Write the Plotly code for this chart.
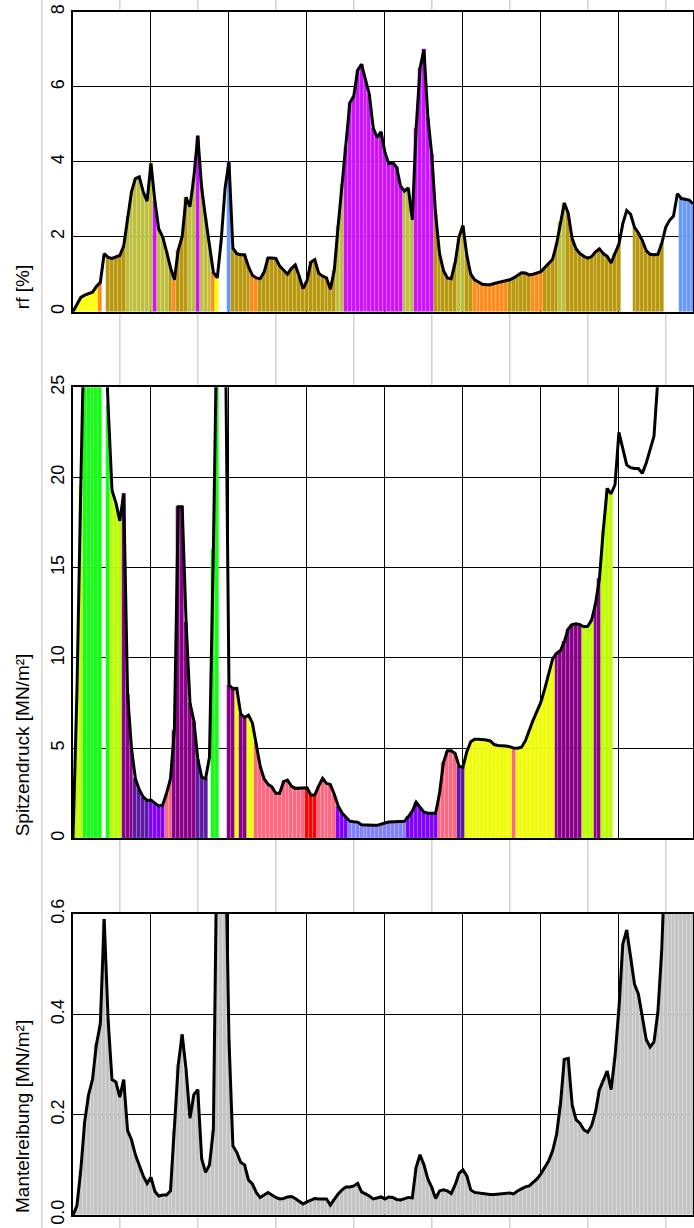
import plotly.graph_objects as go

# ---------------- data ----------------
depth_start = 0.0
depth_step = 0.05

rf = [0.0, 0.2, 0.38, 0.44, 0.47, 0.52, 0.67, 0.78, 1.55, 1.45,
      1.42, 1.46, 1.5, 1.75, 2.55, 3.2, 3.55, 3.6, 3.2, 2.95,
      3.96, 2.95, 2.2, 2.0, 1.6, 1.18, 0.85, 1.65, 2.0, 3.05,
      2.8, 3.6, 4.7, 3.3, 2.5, 1.75, 1.05, 0.9, 1.9, 3.3,
      4.0, 1.7, 1.55, 1.52, 1.52, 1.2, 0.97, 0.9, 0.88, 1.05,
      1.43, 1.43, 1.42, 1.22, 1.1, 1.0, 1.15, 1.25, 0.95, 0.62,
      0.82, 1.32, 1.39, 1.03, 0.95, 0.9, 0.6, 1.1, 2.3, 3.4,
      4.4, 5.58, 5.75, 6.45, 6.6, 6.2, 5.8, 4.9, 4.65, 4.8,
      4.25, 3.95, 3.98, 3.85, 3.35, 3.22, 3.3, 2.45, 4.9, 6.5,
      7.0, 5.2, 4.2, 2.6, 1.55, 1.1, 0.9, 0.88, 1.3, 2.0,
      2.3, 1.5, 1.0, 0.85, 0.78, 0.73, 0.72, 0.72, 0.75, 0.77,
      0.79, 0.81, 0.85, 0.9, 0.96, 1.04, 1.03, 0.98, 1.0, 1.03,
      1.07, 1.18, 1.3, 1.4, 1.8, 2.4, 2.9, 2.63, 1.95, 1.68,
      1.55, 1.48, 1.43, 1.47, 1.6, 1.68, 1.55, 1.48, 1.3, 1.56,
      1.8, 2.35, 2.7, 2.6, 2.25, 2.1, 1.9, 1.63, 1.53, 1.52,
      1.53, 1.83, 2.25, 2.44, 2.55, 3.15, 3.02, 3.0, 2.98, 2.88]

qc = [0.0, 8.0, 19.5, 30, 30, 30, 30, 30, 30, 24.0,
      19.3, 18.6, 17.6, 19.1, 8.0, 5.0, 3.3, 2.7, 2.3, 2.1,
      2.12, 1.95, 1.8, 1.85, 2.5, 3.3, 6.0, 18.38, 18.38, 12.0,
      7.5, 6.5, 4.4, 3.4, 3.3, 4.5, 16.0, 30, 30, 30,
      8.5, 8.3, 8.31, 6.9, 6.7, 6.83, 6.4, 5.3, 4.0, 3.3,
      3.0, 2.85, 2.5, 2.5, 3.14, 3.23, 2.9, 2.77, 2.77, 2.8,
      2.8, 2.4, 2.4, 2.9, 3.33, 3.05, 2.98, 2.45, 1.8, 1.4,
      1.15, 0.95, 0.92, 0.9, 0.75, 0.73, 0.72, 0.72, 0.72, 0.8,
      0.85, 0.9, 0.92, 0.9, 0.92, 0.95, 1.2, 1.5, 2.0, 1.7,
      1.45, 1.39, 1.39, 1.39, 2.5, 4.2, 4.85, 4.85, 4.7, 4.0,
      3.95, 4.8, 5.35, 5.49, 5.49, 5.49, 5.45, 5.4, 5.2, 5.15,
      5.15, 5.12, 5.08, 5.0, 4.99, 5.05, 5.4, 6.0, 6.55, 7.05,
      7.55, 8.3, 9.1, 9.95, 10.25, 10.4, 10.9, 11.6, 11.85, 11.9,
      11.85, 11.73, 11.75, 12.1, 13.0, 14.4, 17.1, 19.4, 19.1, 19.6,
      22.5, 21.6, 20.7, 20.55, 20.5, 20.5, 20.23, 20.8, 21.6, 22.3,
      25.5, 30, 30, 30, 30, 30, 30, 30, 30, 30]

fs = [0.0, 0.018, 0.09, 0.186, 0.24, 0.27, 0.34, 0.38, 0.59, 0.39,
      0.27, 0.265, 0.235, 0.27, 0.168, 0.15, 0.12, 0.1, 0.078, 0.063,
      0.075, 0.047, 0.038, 0.04, 0.04, 0.048, 0.17, 0.3, 0.36, 0.29,
      0.193, 0.24, 0.25, 0.112, 0.085, 0.1, 0.17, 0.8, 0.9, 0.8,
      0.35, 0.138, 0.125, 0.105, 0.1, 0.07, 0.062, 0.045, 0.035, 0.04,
      0.045, 0.04, 0.035, 0.032, 0.033, 0.036, 0.037, 0.033, 0.028, 0.022,
      0.026, 0.03, 0.033, 0.032, 0.032, 0.032, 0.02, 0.032, 0.042, 0.05,
      0.056, 0.056, 0.058, 0.063, 0.046, 0.042, 0.038, 0.032, 0.034, 0.036,
      0.032, 0.036, 0.035, 0.031, 0.03, 0.032, 0.035, 0.034, 0.095, 0.12,
      0.1, 0.072, 0.055, 0.033, 0.048, 0.05, 0.048, 0.043, 0.06, 0.083,
      0.09, 0.078, 0.05, 0.045, 0.044, 0.042, 0.041, 0.041, 0.041, 0.042,
      0.042, 0.043, 0.044, 0.042, 0.048, 0.052, 0.056, 0.058, 0.065, 0.072,
      0.082, 0.096, 0.108, 0.128, 0.16, 0.22, 0.31, 0.312, 0.22, 0.19,
      0.183, 0.17, 0.165, 0.178, 0.206, 0.25, 0.27, 0.287, 0.25, 0.316,
      0.41, 0.54, 0.568, 0.515, 0.46, 0.44, 0.395, 0.35, 0.335, 0.345,
      0.405, 0.53, 0.75, 0.8, 0.8, 0.85, 0.85, 0.9, 0.9, 0.9]

# soil-class layers (class code, number of samples)
rf_layers = [("Y", 7), ("O", 1), ("W", 1), ("G", 5), ("L", 7), ("M", 1), ("L", 3),
             ("G", 1), ("O", 1), ("G", 3), ("L", 2), ("M", 1), ("L", 3), ("O", 1),
             ("Y", 1), ("W", 2), ("B", 1), ("G", 5), ("O", 2), ("G", 20), ("L", 2),
             ("M", 15), ("L", 3), ("M", 5), ("G", 6), ("L", 2), ("G", 2), ("O", 9),
             ("G", 6), ("O", 3), ("G", 4), ("L", 2), ("G", 14), ("W", 3), ("G", 8),
             ("W", 4), ("B", 4)]

qc_layers = [("y", 3), ("g", 5), ("W", 1), ("g", 1), ("y", 3), ("p", 3), ("i", 4),
             ("v", 4), ("k", 2), ("p", 6), ("i", 3), ("W", 1), ("g", 2), ("W", 2),
             ("p", 2), ("Y", 1), ("p", 2), ("Y", 2), ("k", 13), ("r", 3), ("k", 5),
             ("v", 3), ("b", 15), ("v", 8), ("k", 5), ("i", 2), ("Y", 12), ("k", 1),
             ("Y", 10), ("p", 7), ("y", 3), ("p", 2), ("y", 3), ("W", 21)]

rf_palette = {"Y": "#ffff00", "O": "#ff8c1a", "G": "#b9980e", "L": "#bfbf3f",
              "M": "#cc11ff", "B": "#6699ff", "W": "rgba(0,0,0,0)"}
qc_palette = {"y": "#bbff00", "g": "#11ff11", "p": "#880088", "i": "#5c1aa3",
              "v": "#8000ff", "k": "#ff6680", "r": "#ff0000", "b": "#8080ff",
              "Y": "#eeff00", "W": "rgba(0,0,0,0)"}
fs_color = "#c4c4c4"

titles = ["rf [%]", "Spitzendruck [MN/m²]", "Mantelreibung [MN/m²]"]

# ---------------- build ----------------
depth = [round(depth_start + i * depth_step, 3) for i in range(len(rf))]
x_max = 7.95


def expand(layers):
    out = []
    for c, n in layers:
        out += [c] * n
    return out


rf_cls = expand(rf_layers)
qc_cls = expand(qc_layers)


def edge(col):
    return "rgba(0,0,0,0)" if col.startswith("rgba") else "rgba(255,255,255,0.25)"


rf_col = [rf_palette[c] for c in rf_cls]
qc_col = [qc_palette[c] for c in qc_cls]
fs_col = [fs_color] * len(fs)

fig = go.Figure()
panels = [(rf, rf_col, "x", "y"), (qc, qc_col, "x2", "y2"), (fs, fs_col, "x3", "y3")]
for vals, cols, xa, ya in panels:
    fig.add_trace(go.Bar(x=depth, y=vals, width=depth_step, xaxis=xa, yaxis=ya,
                         marker=dict(color=cols,
                                     line=dict(color=[edge(c) for c in cols], width=0.6)),
                         hoverinfo="skip", showlegend=False))
    fig.add_trace(go.Scatter(x=depth, y=vals, mode="lines", xaxis=xa, yaxis=ya,
                             line=dict(color="black", width=3), hoverinfo="skip",
                             showlegend=False))

H = 1228
mt, mb = 12, 13
ph = H - mt - mb
doms = [[0.7509, 1.0], [0.3131, 0.6880], [0.0, 0.2502]]
yranges = [[0, 8], [0, 25], [0, 0.6]]
ydticks = [2, 5, 0.2]
yfmts = ["d", "d", ".1f"]

font_family = "Liberation Sans, Arial, sans-serif"
ax_common = dict(showline=True, linecolor="black", linewidth=2, mirror=True,
                 showgrid=True, gridcolor="black", gridwidth=1, zeroline=False,
                 ticks="", automargin=False)
layout = dict(width=694, height=H, margin=dict(l=73, r=1, t=mt, b=mb),
              paper_bgcolor="white", plot_bgcolor="white", bargap=0,
              barmode="overlay", showlegend=False,
              font=dict(family=font_family, color="black"))
for k in range(3):
    sx = "" if k == 0 else str(k + 1)
    layout["xaxis" + sx] = dict(domain=[0, 1], range=[0, x_max], dtick=1, tick0=0,
                                showticklabels=False, anchor="y" + sx, **ax_common)
    layout["yaxis" + sx] = dict(domain=doms[k], range=yranges[k], dtick=ydticks[k],
                                tick0=0, tickformat=yfmts[k], tickangle=-90,
                                tickfont=dict(size=18, family=font_family, color="black"),
                                anchor="x" + sx, **ax_common)
fig.update_layout(**layout)

# axis titles, aligned with the bottom of each panel
for k in range(3):
    fig.add_annotation(text=titles[k], xref="paper", yref="paper", x=0, y=doms[k][0],
                       xanchor="right", yanchor="bottom", xshift=-38, textangle=-90,
                       showarrow=False, font=dict(size=19, family=font_family, color="black"))

# light background grid of the page (visible in gaps between panels)
gaps = [[1.0, 1.0 + mt / ph], [doms[0][0], doms[1][1]], [doms[1][0], doms[2][1]],
        [-mb / ph, 0.0]]
for k in range(9):
    xp = (-0.4 + k) / x_max
    segs = [[-mb / ph, 1.0 + mt / ph]] if k == 0 else gaps
    for y0, y1 in segs:
        fig.add_shape(type="line", xref="paper", yref="paper", x0=xp, x1=xp, y0=y0, y1=y1,
                      line=dict(color="#d3d3d3", width=1.5), layer="below")

fig.write_html("out.html", config={"displayModeBar": False},
               post_script="document.body.style.margin='0';document.body.style.overflow='hidden';")
